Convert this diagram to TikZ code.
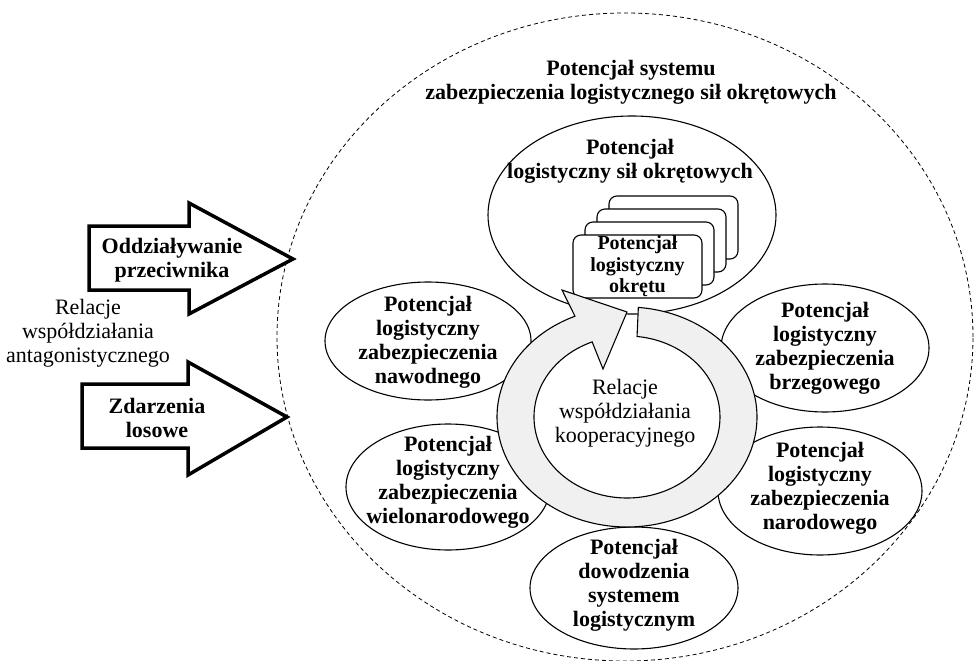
\documentclass[tikz,border=0pt]{standalone}
\usepackage{fontspec}
\setmainfont{Liberation Serif}
\usetikzlibrary{shapes.geometric}
\definecolor{ringgray}{RGB}{240,240,240}
\begin{document}
\begin{tikzpicture}[x=1pt,y=-1pt,
  ell/.style={draw, ellipse, line width=1.1pt, inner sep=0pt},
  btxt/.style={font=\bfseries\fontsize{22}{24}\selectfont, align=center, inner sep=0pt},
  ctxt/.style={font=\fontsize{20}{21.5}\selectfont\bfseries, align=center, inner sep=0pt},
  ntxt/.style={font=\fontsize{22}{24}\selectfont, align=center, inner sep=0pt},
  card/.style={draw, rounded corners=8pt, line width=1.1pt, fill=white,
    minimum width=129pt, minimum height=63pt, inner sep=0pt},
  bigarrow/.style={draw, line width=3.5pt, fill=white, line join=miter},
  ring/.style={draw, line width=1.1pt, fill=ringgray, line join=miter}]
\useasboundingbox (0,0) rectangle (975,661);

% outer system boundary
\node[draw, ellipse, dashed, dash pattern=on 4pt off 3pt, line width=0.8pt,
  minimum width=696pt, minimum height=648pt, inner sep=0pt] (system) at (625,337) {};
\node[btxt] (title) at (631,82) {Potencjał systemu\\zabezpieczenia logistycznego sił okrętowych};

% component potentials
\node[ell, minimum width=288pt, minimum height=198pt] (fleet) at (632,215) {};
\node[ell, minimum width=206pt, minimum height=118pt] (surface) at (428,341) {};
\node[ell, minimum width=204pt, minimum height=126pt] (multi) at (448,487) {};
\node[ell, minimum width=208pt, minimum height=128pt] (coast) at (825,348) {};
\node[ell, minimum width=204pt, minimum height=128pt] (national) at (820,491) {};
\node[ell, minimum width=208pt, minimum height=122pt] (command) at (634,588) {};

% stack of ship cards
\node[card] (c4) at (673.5,227.5) {};
\node[card] (c3) at (661.5,240.5) {};
\node[card] (c2) at (649.5,253.5) {};
\node[card] (c1) at (637.5,266.5) {};

% cooperative relations: circular arrow
\draw[ring]
  plot[domain=-85:246.4, samples=120, smooth] ({627+130*cos(\x)},{417+110*sin(\x)})
  -- (562,290) -- (627,312) -- (603,369)
  -- plot[domain=-248:83.8, samples=120, smooth] ({627+93*cos(-\x)},{417+81*sin(-\x)})
  -- cycle;

% external influences
\draw[bigarrow] (89,226) -- (189,226) -- (189,203) -- (293,259) -- (189,314)
  -- (189,290) -- (89,290) -- cycle;
\draw[bigarrow] (82,384) -- (188,384) -- (188,362) -- (287,417) -- (188,475)
  -- (188,448) -- (82,448) -- cycle;

% texts
\node[btxt] (fleetT) at (630,161) {Potencjał\\logistyczny sił okrętowych};
\node[ctxt] (c1T) at (c1) {\textbf{Potencjał}\\\textbf{logistyczny}\\\textbf{okrętu}};
\node[btxt] (surfaceT) at (428,342) {Potencjał\\logistyczny\\zabezpieczenia\\nawodnego};
\node[btxt] (multiT) at (448,482) {Potencjał\\logistyczny\\zabezpieczenia\\wielonarodowego};
\node[btxt] (coastT) at (825,348) {Potencjał\\logistyczny\\zabezpieczenia\\brzegowego};
\node[btxt] (nationalT) at (820,488) {Potencjał\\logistyczny\\zabezpieczenia\\narodowego};
\node[btxt] (commandT) at (634,585) {Potencjał\\dowodzenia\\systemem\\logistycznym};
\node[ntxt] (coop) at (625,413) {Relacje\\współdziałania\\kooperacyjnego};
\node[ntxt] (antag) at (88,333) {Relacje\\współdziałania\\antagonistycznego};
\node[btxt] (enemyT) at (172,260) {Oddziaływanie\\przeciwnika};
\node[btxt] (randomT) at (157,418) {Zdarzenia\\losowe};
\end{tikzpicture}
\end{document}
